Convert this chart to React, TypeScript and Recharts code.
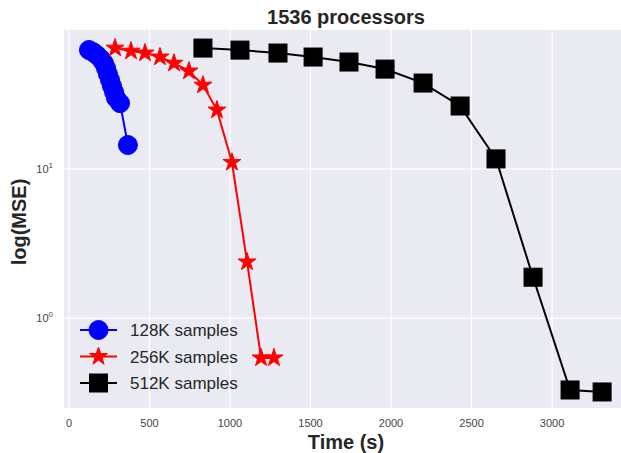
import React from 'react';
import { LineChart, Line, XAxis, YAxis, CartesianGrid, Legend } from 'recharts';

const time128 = [124, 149, 174, 199, 217, 230, 242, 255, 267, 280, 292, 317, 366];
const mse128 = [63, 61, 58.2, 54.7, 51.4, 47.6, 43.5, 39.6, 36.1, 32.9, 30.0, 27.7, 14.5];

const time256 = [286, 385, 472, 565, 652, 745, 832, 919, 1012, 1106, 1193, 1273];
const mse256 = [64.9, 61.9, 60.1, 56.5, 51.4, 45.5, 36.6, 24.9, 11.1, 2.38, 0.54, 0.54];

const time512 = [832, 1062, 1298, 1516, 1739, 1963, 2199, 2429, 2652, 2882, 3112, 3311];
const mse512 = [64.9, 62.9, 60.1, 56.5, 52.3, 46.9, 37.8, 26.5, 11.7, 1.88, 0.329, 0.319];

const xTicks = [0, 500, 1000, 1500, 2000, 2500, 3000];
const yTicks = [1, 10];
const yTickExp = ['0', '1'];

const seriesNames = ['128K samples', '256K samples', '512K samples'];
const seriesColors = ['#0000FF', '#FF0000', '#000000'];

const build = (ts: number[], vs: number[]) => ts.map((t, i) => ({ t, mse: vs[i] }));
const data128 = build(time128, mse128);
const data256 = build(time256, mse256);
const data512 = build(time512, mse512);

const FONT = '"Liberation Sans", Arial, sans-serif';
const TEXT = '#262626';

const starPath = (cx: number, cy: number, R: number) => {
  const r = R * 0.381966;
  let d = '';
  for (let i = 0; i < 10; i++) {
    const ang = -Math.PI / 2 + (i * Math.PI) / 5;
    const rad = i % 2 === 0 ? R : r;
    const x = cx + rad * Math.cos(ang);
    const y = cy + rad * Math.sin(ang);
    d += (i === 0 ? 'M' : 'L') + x.toFixed(2) + ',' + y.toFixed(2);
  }
  return d + 'Z';
};

const Marker = ({ kind, cx, cy }: { kind: number; cx: number; cy: number }) => {
  if (kind === 0) return <circle cx={cx} cy={cy} r={9.5} fill="#0000FF" stroke="#0000FF" strokeWidth={1} />;
  if (kind === 1) return <path d={starPath(cx, cy, 9.5)} fill="#FF0000" stroke="#FF0000" strokeWidth={1} strokeLinejoin="miter" />;
  return <rect x={cx - 9} y={cy - 9} width={18} height={18} fill="#000000" stroke="#000000" strokeWidth={1} />;
};

const makeDot = (kind: number) => (props: any) => {
  const { cx, cy, index } = props;
  if (cx == null || cy == null) return <g key={`d${kind}-${index}`} />;
  return (
    <g key={`d${kind}-${index}`}>
      <Marker kind={kind} cx={cx} cy={cy} />
    </g>
  );
};

const XTick = (props: any) => {
  const { x, payload } = props;
  return (
    <text x={x} y={427} textAnchor="middle" fontFamily={FONT} fontSize={11} fill="#444">
      {payload.value}
    </text>
  );
};

const YTick = (props: any) => {
  const { x, y, payload } = props;
  const idx = yTicks.indexOf(payload.value);
  return (
    <text x={x - 3} y={y + 4} textAnchor="end" fontFamily={FONT} fontSize={11} fill="#444">
      10
      <tspan dy={-5} fontSize={8}>{yTickExp[idx]}</tspan>
    </text>
  );
};

const LegendContent = () => (
  <svg width={200} height={90}>
    {seriesNames.map((name, i) => {
      const cy = 14 + i * 26.5;
      return (
        <g key={name}>
          <line x1={4} x2={41} y1={cy} y2={cy} stroke={seriesColors[i]} strokeWidth={2} />
          <Marker kind={i} cx={22.5} cy={cy} />
          <text x={54} y={cy + 6} fontFamily={FONT} fontSize={17} fill={TEXT}>
            {name}
          </text>
        </g>
      );
    })}
  </svg>
);

export default function App() {
  return (
    <div style={{ position: 'absolute', left: 0, top: 0, width: 621, height: 453, background: '#fff', overflow: 'hidden' }}>
      <LineChart width={621} height={453} margin={{ top: 30, right: -8, left: 0, bottom: 0 }}>
        <CartesianGrid
          fill="#EAEAF2"
          stroke="#FFFFFF"
          strokeWidth={1.2}
          horizontalValues={yTicks}
          verticalValues={xTicks}
        />
        <XAxis
          type="number"
          dataKey="t"
          domain={[-31, 3478]}
          ticks={xTicks}
          allowDataOverflow
          axisLine={false}
          tickLine={false}
          height={45}
          tick={<XTick />}
          interval={0}
        />
        <YAxis
          type="number"
          scale="log"
          domain={[0.249, 85.8]}
          ticks={yTicks}
          allowDataOverflow
          axisLine={false}
          tickLine={false}
          width={64}
          tick={<YTick />}
          interval={0}
        />
        <Line data={data128} dataKey="mse" stroke="#0000FF" strokeWidth={2} dot={makeDot(0)} activeDot={false} isAnimationActive={false} />
        <Line data={data256} dataKey="mse" stroke="#FF0000" strokeWidth={2} dot={makeDot(1)} activeDot={false} isAnimationActive={false} />
        <Line data={data512} dataKey="mse" stroke="#000000" strokeWidth={2} dot={makeDot(2)} activeDot={false} isAnimationActive={false} />
        <Legend
          layout="vertical"
          align="center"
          verticalAlign="middle"
          content={<LegendContent />}
          wrapperStyle={{ position: 'absolute', left: 76, top: 316, width: 200, height: 90 }}
        />
        <text x={346} y={24} textAnchor="middle" fontFamily={FONT} fontSize={20} fontWeight="bold" fill={TEXT}>
          1536 processors
        </text>
        <text x={346} y={449} textAnchor="middle" fontFamily={FONT} fontSize={20} fontWeight="bold" fill={TEXT}>
          Time (s)
        </text>
        <text
          x={26}
          y={222}
          textAnchor="middle"
          fontFamily={FONT}
          fontSize={20}
          fontWeight="bold"
          fill={TEXT}
          transform="rotate(-90 26 222)"
        >
          log(MSE)
        </text>
      </LineChart>
    </div>
  );
}
